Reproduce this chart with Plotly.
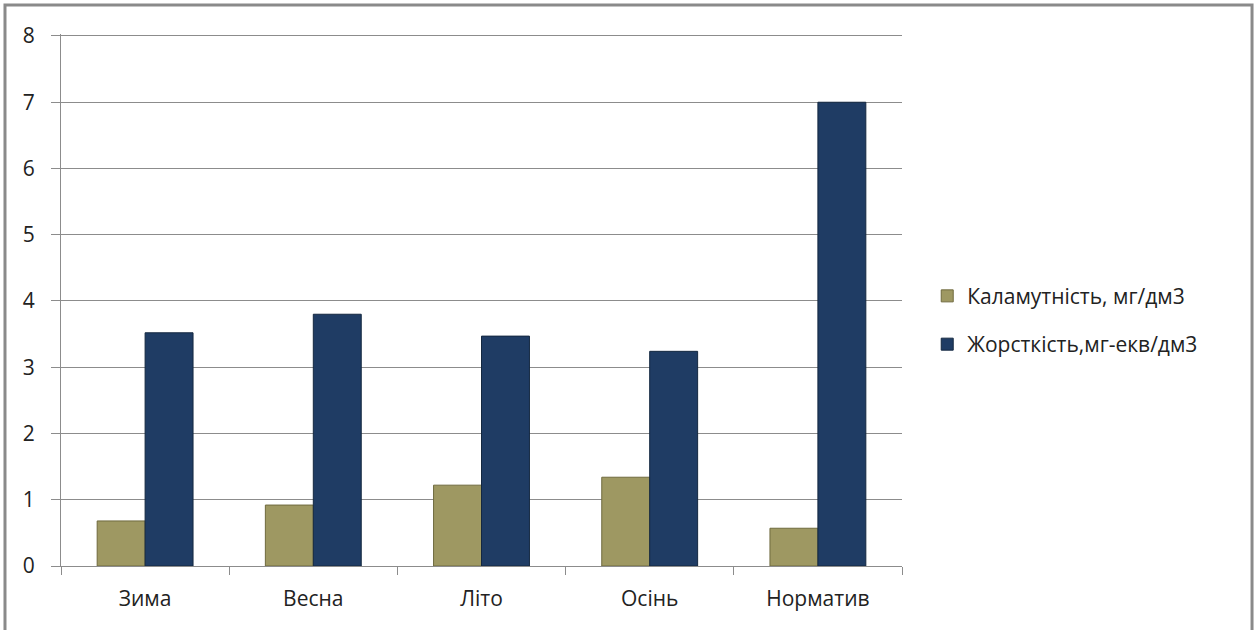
import plotly.graph_objects as go

categories = ["Зима", "Весна", "Літо", "Осінь", "Норматив"]
turbidity = [0.68, 0.92, 1.22, 1.34, 0.57]
hardness = [3.52, 3.80, 3.47, 3.24, 7.0]
series_names = ["Каламутність, мг/дм3", "Жорсткість,мг-екв/дм3"]
y_ticks = [0, 1, 2, 3, 4, 5, 6, 7, 8]

FONT = "Open Sans"

fig = go.Figure()
fig.add_trace(go.Bar(
    x=categories, y=turbidity, name=series_names[0],
    marker=dict(color="#9E9862", line=dict(color="#6f6a3e", width=1)),
    legendgroup="a",
))
fig.add_trace(go.Bar(
    x=categories, y=hardness, name=series_names[1],
    marker=dict(color="#1F3C64", line=dict(color="#142840", width=1)),
    legendgroup="b",
))

fig.update_layout(
    width=1257, height=630,
    margin=dict(l=61, r=355, t=34, b=64),
    paper_bgcolor="white", plot_bgcolor="white",
    barmode="group", bargap=0.43, bargroupgap=0,
    font=dict(family=FONT, size=21, color="#222"),
    showlegend=True,
    legend=dict(x=1.03, xanchor="left", y=0.462, yanchor="middle",
                font=dict(size=21, color="#222"), tracegroupgap=18,
                traceorder="grouped", itemwidth=30),
    xaxis=dict(
        showline=True, linecolor="#8c8c8c", linewidth=1,
        ticks="outside", tickson="boundaries", ticklen=8, tickcolor="#8c8c8c",
        showgrid=False, tickfont=dict(size=21, color="#222"),
        ticklabelstandoff=14,
    ),
    yaxis=dict(
        range=[0, 8.03], tickvals=y_ticks, showline=True, linecolor="#8c8c8c", linewidth=1,
        ticks="outside", ticklen=9, tickcolor="#8c8c8c",
        showgrid=True, gridcolor="#8c8c8c", gridwidth=1, zeroline=False,
        tickfont=dict(size=21, color="#222"), ticklabelstandoff=12,
    ),
    shapes=[dict(type="rect", xref="paper", yref="paper",
                 x0=-0.0666, x1=1.4162, y0=-0.14, y1=1.0545,
                 line=dict(color="#8a8a8a", width=3), fillcolor="rgba(0,0,0,0)")],
)

fig.write_html("out.html")
